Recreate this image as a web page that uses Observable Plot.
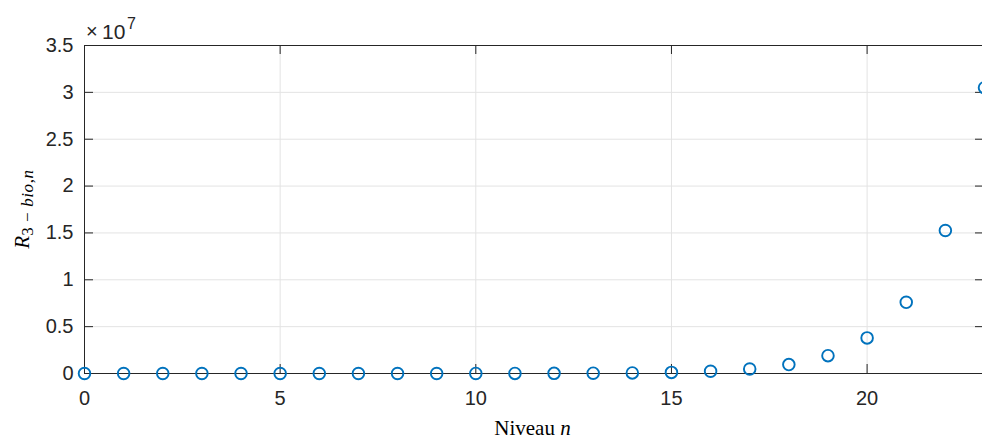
<!DOCTYPE html>
<html><head><meta charset="utf-8">
<script src="https://cdn.jsdelivr.net/npm/d3@7"></script>
<script src="https://cdn.jsdelivr.net/npm/@observablehq/plot@0.6"></script>
<style>html,body{margin:0;padding:0;background:#fff} svg{display:block}</style>
</head><body><div id="chart"></div>
<script>
const levels = [0,1,2,3,4,5,6,7,8,9,10,11,12,13,14,15,16,17,18,19,20,21,22,23];
const values = [4,7,15,29,58,120,230,470,930,1900,3700,7400,15000,30000,60000,120000,240000,480000,950000,1900000,3800000,7600000,15260000,30500000];
const xTicks = [0,5,10,15,20];
const yTicks = [0,0.5e7,1e7,1.5e7,2e7,2.5e7,3e7,3.5e7];
const yTickLabels = ["0","0.5","1","1.5","2","2.5","3","3.5"];
const xLabel = "Niveau ";
const xLabelVar = "n";
const yExponent = "7";

const W = 982, H = 441, mL = 84, mR = -2, mT = 45, mB = 68;
const pw = W - mL - mR, ph = H - mT - mB;
const axisColor = "#262626", gridColor = "#e3e3e3", blue = "#0072BD";
const data = levels.map((n, i) => ({n, v: values[i]}));

const plot = Plot.plot({
  width: W, height: H,
  marginLeft: mL, marginRight: mR, marginTop: mT, marginBottom: mB,
  style: {fontFamily: "'Liberation Sans', Arial, Helvetica, sans-serif", fontSize: "20px", color: axisColor, background: "#fff", overflow: "hidden"},
  x: {domain: [0, 23], axis: null},
  y: {domain: [0, 3.5e7], axis: null},
  marks: [
    Plot.gridX(xTicks, {stroke: gridColor, strokeOpacity: 1}),
    Plot.gridY(yTicks, {stroke: gridColor, strokeOpacity: 1}),
    Plot.tickX(xTicks, {x: d => d, insetTop: ph - 9, stroke: axisColor}),
    Plot.tickX(xTicks, {x: d => d, insetBottom: ph - 9, stroke: axisColor}),
    Plot.tickY(yTicks, {y: d => d, insetRight: pw - 9, stroke: axisColor}),
    Plot.tickY(yTicks, {y: d => d, insetLeft: pw - 9, stroke: axisColor}),
    Plot.frame({stroke: axisColor, strokeWidth: 1}),
    Plot.axisX(xTicks, {tickSize: 0, tickPadding: 17, fontSize: 20, fill: axisColor, label: null}),
    Plot.axisY(yTicks, {tickSize: 0, tickPadding: 11, fontSize: 20, fill: axisColor, label: null, tickFormat: d => yTickLabels[yTicks.indexOf(d)]}),
    Plot.dot(data, {x: "n", y: "v", r: 5.8, stroke: blue, strokeWidth: 1.9, fill: "none"})
  ]
});
document.getElementById("chart").appendChild(plot);

const svg = d3.select(plot);
const sans = "'Liberation Sans', Arial, sans-serif";
const serif = "'Liberation Serif', 'Times New Roman', serif";
function txt(x, y, size, family, content) {
  return svg.append("text").attr("x", x).attr("y", y).attr("text-anchor", "start")
    .style("font-family", family).style("font-size", size + "px").style("fill", axisColor).text(content);
}
// exponent
txt(86, 38, 20, sans, "\u00d7");
txt(102, 39, 21, sans, "10");
txt(127, 29, 16, sans, yExponent);

// y label
const yl = svg.append("text")
  .attr("transform", `translate(29,${mT + (H - mT - mB) / 2}) rotate(-90)`)
  .attr("text-anchor", "middle")
  .style("font-family", serif).style("fill", "#000");
yl.append("tspan").style("font-size", "21px").style("font-style", "italic").text("R");
const sub = yl.append("tspan").style("font-size", "17px").attr("dy", 4).style("letter-spacing", "0.6px");
sub.append("tspan").text("3 \u2212 ");
sub.append("tspan").style("font-style", "italic").text("bio");
sub.append("tspan").text(",");
sub.append("tspan").style("font-style", "italic").text("n");

// x label
const xl = svg.append("text").attr("x", mL + (W - mL - 1) / 2).attr("y", 435)
  .attr("text-anchor", "middle")
  .style("font-family", serif).style("font-size", "21px").style("fill", "#000");
xl.append("tspan").text(xLabel);
xl.append("tspan").style("font-style", "italic").text(xLabelVar);
</script>
</body></html>
